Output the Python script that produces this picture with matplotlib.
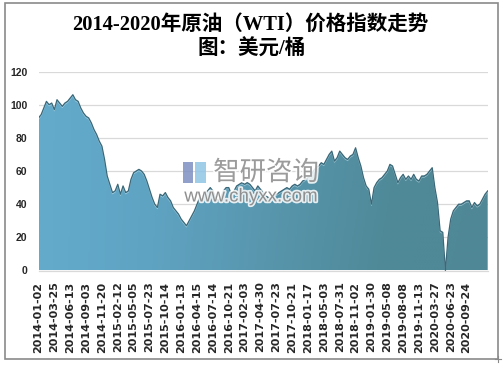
import numpy as np
import matplotlib
matplotlib.use("Agg")
import matplotlib.pyplot as plt
from matplotlib.patches import Rectangle
from matplotlib.colors import LinearSegmentedColormap
import matplotlib.patheffects as pe
import matplotlib.transforms as mtransforms

# ---------------- data ----------------
title_line1 = "2014-2020年原油（WTI）价格指数走势"
title_line2 = "图：美元/桶"

tick_labels = ["2014-01-02", "2014-03-25", "2014-06-13", "2014-09-03", "2014-11-20",
               "2015-02-12", "2015-05-05", "2015-07-23", "2015-10-14", "2016-01-13",
               "2016-04-15", "2016-07-14", "2016-10-21", "2017-02-03", "2017-04-30",
               "2017-07-23", "2017-10-21", "2018-01-17", "2018-05-03", "2018-07-31",
               "2018-11-02", "2019-01-30", "2019-05-08", "2019-08-08", "2019-11-13",
               "2020-03-27", "2020-06-23", "2020-09-24"]
points_per_label = 6

prices = [92, 94, 98, 102, 100, 101, 97, 103, 101, 99, 101, 102, 104, 106, 103, 102, 98, 95,
          93, 92, 89, 85, 82, 78, 75, 67, 57, 52, 47, 48,
          52, 46, 51, 47, 48, 55, 59, 60, 61, 60, 58, 54, 49, 44, 40, 38, 46, 45, 47, 44,
          42, 38, 36, 34, 31, 29, 27, 30,
          33, 36, 40, 44, 43, 47, 48, 50, 48, 44, 42, 44, 48, 50, 50, 46, 48, 51, 52, 53,
          52, 53, 52, 50, 48, 51, 49, 47, 45, 44, 43, 45, 46, 47, 48, 49, 50, 49, 51, 52,
          51, 52, 54, 55, 56, 57, 60, 62, 63,
          65, 64, 67, 70, 72, 66, 68, 72, 70, 68, 67, 69, 70, 74, 68, 63, 56, 51, 49, 40,
          50, 53, 55, 56, 58, 60, 64, 63, 58, 53, 56, 58, 55, 57, 55, 58, 55, 54, 57, 57,
          58, 60, 62, 50, 41, 24, 23, 0, 20, 31, 36, 38, 40, 40, 41, 42, 42, 38, 41, 39,
          40, 43, 46, 48]

y_ticks = [0, 20, 40, 60, 80, 100, 120]

# ---------------- figure ----------------
W, H = 504, 367
fig = plt.figure(figsize=(W / 100, H / 100), dpi=100)
fig.patch.set_facecolor("white")

# outer frame
fig.patches.append(Rectangle((5 / W, 1 - 359 / H), 493 / W, 356 / H,
                             transform=fig.transFigure, fill=False,
                             edgecolor="#8a8a8a", linewidth=1.2))

ax = fig.add_axes([38.5 / W, 1 - 270.5 / H, (487.7 - 38.5) / W, (270.5 - 71.5) / H])
ax.set_facecolor("white")

x = np.arange(len(prices))
y = np.array(prices, dtype=float)

ax.set_xlim(x[0], x[-1])
ax.set_ylim(0, 120)

# gradient fill clipped to area
poly = ax.fill_between(x, 0, y, facecolor="none", edgecolor="none", zorder=2)
cmap = LinearSegmentedColormap.from_list(
    "g", ["#63aacb", "#5fa3c2", "#5896ad", "#4f8a99", "#4f8796"])
gx = np.linspace(0, 1, 300)
gy = np.linspace(0, 1, 100)
GX, GY = np.meshgrid(gx, gy)
grad = GX * 0.9 + 0.1 * (1 - GY) * GX
img = ax.imshow(grad, cmap=cmap, extent=[x[0], x[-1], 0, 120], origin="lower",
                aspect="auto", zorder=2, interpolation="bilinear")
img.set_clip_path(poly.get_paths()[0], transform=ax.transData)

# light highlight just under the edge
offset = mtransforms.offset_copy(ax.transData, fig=fig, x=0, y=-1.3, units="dots")
ax.plot(x, y, color="#cfe9f3", lw=0.6, alpha=0.55, zorder=3, transform=offset)
ax.plot(x, y, color="#3b6878", lw=0.9, zorder=4)

# grid
ax.set_yticks(y_ticks)
ax.yaxis.grid(True, color="#d9d9d9", linewidth=0.9, zorder=1)
ax.set_axisbelow(True)
for s in ["top", "right", "left"]:
    ax.spines[s].set_visible(False)
ax.spines["bottom"].set_color("#d9d9d9")
ax.spines["bottom"].set_linewidth(0.9)
ax.spines["bottom"].set_zorder(5)

ax.set_xticks(np.arange(len(tick_labels)) * points_per_label)
ax.set_xticklabels(tick_labels, rotation=90, fontsize=8, fontweight="bold",
                   family="DejaVu Sans", color="#262626")
ax.tick_params(axis="x", length=0, pad=8)
ax.tick_params(axis="y", length=0, pad=8)
for lab in ax.get_yticklabels():
    lab.set_fontsize(7.5)
    lab.set_fontweight("bold")
    lab.set_family("Liberation Sans")
    lab.set_color("#262626")

# titles
cjk = ["Liberation Serif", "Noto Sans CJK SC"]
fig.text(0.497, 1 - 25 / H, title_line1, ha="center", va="center",
         fontsize=14.8, fontweight="bold", family=cjk, color="black")
fig.text(0.499, 1 - 50 / H, title_line2, ha="center", va="center",
         fontsize=14.8, fontweight="bold", family=cjk, color="black")

# watermark
glow = [pe.withStroke(linewidth=2.5, foreground=(1, 1, 1, 0.6))]
fig.text(266 / W, 1 - 172.5 / H, "智研咨询", ha="center", va="center",
         fontsize=19, family=["Noto Sans CJK SC"], color="#8c8c8c", alpha=0.85,
         zorder=10, path_effects=glow)
fig.text(251 / W, 1 - 197 / H, "www.chyxx.com", ha="center", va="center",
         fontsize=13.5, family="Liberation Sans", color="#7f7f7f", alpha=0.85,
         zorder=10, path_effects=glow)
fig.patches.append(Rectangle((183 / W, 1 - 183 / H), 10 / W, 21 / H,
                             transform=fig.transFigure, facecolor="#7e8fc2",
                             edgecolor="none", alpha=0.85, zorder=10))
fig.patches.append(Rectangle((195 / W, 1 - 183 / H), 11 / W, 21 / H,
                             transform=fig.transFigure, facecolor="#8fc6e6",
                             edgecolor="none", alpha=0.85, zorder=10))

# small resize mark at corner
fig.lines.append(plt.Line2D([495 / W, 501 / W], [1 - 359 / H, 1 - 359 / H],
                            transform=fig.transFigure, color="#8a8a8a", lw=0.8))
fig.lines.append(plt.Line2D([498 / W, 498 / W], [1 - 356 / H, 1 - 362 / H],
                            transform=fig.transFigure, color="#8a8a8a", lw=0.8))

fig.savefig("out.png", dpi=100)
